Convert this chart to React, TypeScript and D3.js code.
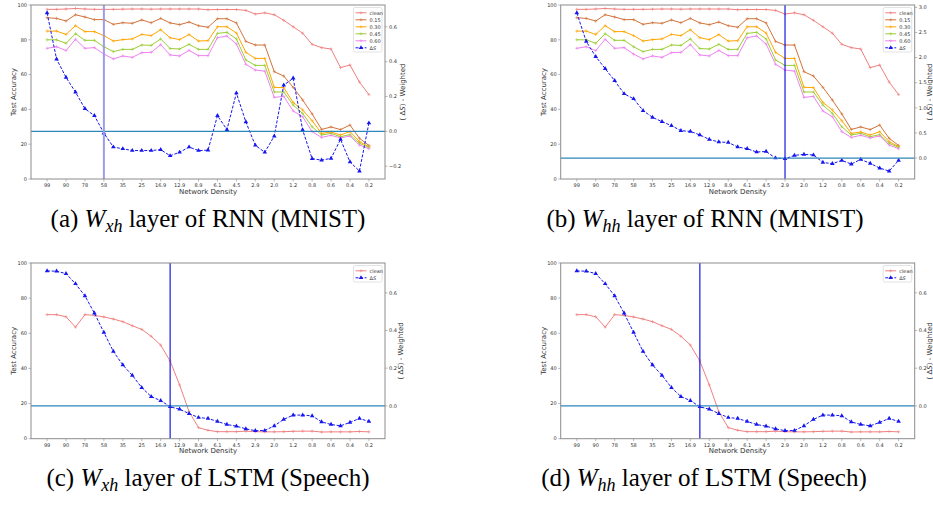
import React from 'react'
import * as d3 from 'd3'

// x tick labels (every other point), 35 densities in total
const densityLabels = ["99", "90", "78", "58", "35", "25", "16.9", "12.9", "8.9", "6.1", "4.5", "2.9", "2.0", "1.2", "0.8", "0.6", "0.4", "0.2"]
const accTicks = [0, 20, 40, 60, 80, 100]

// RNN (MNIST) accuracy curves, same for both layers
const rnnClean = [97.5, 97.5, 97.7, 98.0, 97.7, 97.5, 97.5, 97.5, 97.6, 97.7, 97.7, 97.6, 97.7, 97.7, 97.7, 97.7, 97.7, 97.3, 97.4, 97.4, 97.4, 96.9, 94.8, 95.5, 94.4, 91.2, 87.5, 83.8, 77.4, 75.5, 74.7, 64.0, 65.5, 55.7, 48.5]
const rnn015 = [92.7, 92.3, 90.8, 94.4, 93.1, 91.6, 91.6, 88.9, 89.8, 89.5, 91.4, 89.8, 92.3, 89.7, 88.7, 90.2, 88.1, 87.2, 92.1, 92.1, 89.7, 79.1, 77.0, 77.0, 61.7, 59.2, 52.7, 45.4, 37.4, 28.5, 29.9, 28.4, 31.0, 23.4, 19.3]
const rnn030 = [85.0, 85.0, 83.1, 88.1, 84.7, 84.7, 82.4, 79.3, 80.1, 80.5, 83.1, 82.4, 85.8, 81.2, 80.1, 83.0, 79.3, 79.5, 87.5, 87.5, 83.9, 72.8, 69.3, 69.3, 52.7, 52.5, 44.0, 39.7, 33.5, 26.2, 27.0, 25.3, 27.2, 21.5, 18.6]
const rnn045 = [80.0, 80.0, 78.0, 83.5, 79.7, 79.7, 76.0, 73.2, 74.5, 74.5, 77.0, 76.8, 80.5, 75.0, 74.7, 77.4, 74.5, 74.5, 83.7, 84.3, 80.5, 68.4, 65.3, 65.3, 50.0, 50.0, 42.5, 37.7, 30.0, 25.3, 26.2, 24.3, 25.5, 20.5, 18.2]
const rnn060 = [75.1, 76.0, 73.8, 80.3, 75.1, 75.5, 71.8, 69.0, 70.7, 69.9, 72.6, 72.8, 77.2, 71.3, 70.7, 73.9, 70.9, 70.9, 81.2, 82.2, 77.6, 65.9, 62.6, 62.0, 46.9, 47.5, 39.1, 35.8, 27.2, 23.9, 25.1, 23.6, 24.7, 19.5, 17.4]
const rnnXhDelta = [0.68, 0.415, 0.31, 0.225, 0.13, 0.09, -0.01, -0.09, -0.10, -0.11, -0.11, -0.11, -0.105, -0.14, -0.12, -0.09, -0.11, -0.108, 0.09, 0.01, 0.22, 0.054, -0.08, -0.12, -0.027, 0.265, 0.305, 0.008, -0.157, -0.165, -0.155, -0.046, -0.175, -0.228, 0.048]
const rnnHhDelta = [2.89, 2.32, 2.02, 1.78, 1.54, 1.28, 1.18, 0.945, 0.81, 0.725, 0.645, 0.545, 0.53, 0.46, 0.37, 0.32, 0.31, 0.22, 0.185, 0.12, 0.13, 0.0, -0.015, 0.053, 0.073, 0.06, -0.087, -0.113, -0.047, -0.12, -0.027, -0.107, -0.2, -0.26, -0.047]

// LSTM (Speech)
const lstmClean = [70.6, 70.6, 69.4, 63.5, 70.6, 70.2, 69.3, 68.1, 66.6, 64.3, 62.2, 58.3, 53.3, 44.2, 30.6, 15.4, 6.3, 4.8, 4.0, 4.0, 4.0, 4.3, 4.0, 3.9, 3.9, 4.0, 4.2, 4.3, 4.3, 3.8, 3.9, 3.9, 3.9, 4.1, 3.9]
const lstmDelta = [0.716, 0.715, 0.702, 0.648, 0.584, 0.492, 0.39, 0.289, 0.217, 0.162, 0.097, 0.049, 0.028, -0.005, -0.018, -0.041, -0.062, -0.067, -0.083, -0.099, -0.108, -0.122, -0.132, -0.131, -0.106, -0.072, -0.049, -0.049, -0.053, -0.085, -0.099, -0.106, -0.088, -0.067, -0.083]

const rightTicksA = [-0.2, 0.0, 0.2, 0.4, 0.6]
const rightTicksB = [0.0, 0.5, 1.0, 1.5, 2.0, 2.5, 3.0]
const rightTicksC = [0.0, 0.2, 0.4, 0.6]

const rnnSeries = [
  { name: "clean", values: rnnClean, color: "#f08080" },
  { name: "0.15", values: rnn015, color: "#d2733a" },
  { name: "0.30", values: rnn030, color: "#ffa500" },
  { name: "0.45", values: rnn045, color: "#9acd32" },
  { name: "0.60", values: rnn060, color: "#ee82ee" },
]
const lstmSeries = [{ name: "clean", values: lstmClean, color: "#f08080" }]

const FONT = "DejaVu Sans, sans-serif"
const SPINE = "#8c8c8c"
const TXT = "#333"

function Panel(props) {
  const { left, top, height, series, delta, vline, vlineColor, vlineWidth, rightTicks, rightLabelOffset } = props
  const width = 354
  const n = delta.length
  const pad = (n - 1) * 0.05
  const x = d3.scaleLinear().domain([-pad, n - 1 + pad]).range([0, width])
  const y = d3.scaleLinear().domain([0, 100]).range([height, 0])
  const [lo, hi] = d3.extent(delta)
  const m = (hi - lo) * 0.05
  const yr = d3.scaleLinear().domain([lo - m, hi + m]).range([height, 0])
  const line = d3.line().x((d, i) => x(i)).y(d => y(d))
  const lineR = d3.line().x((d, i) => x(i)).y(d => yr(d))
  const fmt = d3.format(".1f")
  const tri = d3.symbol().type(d3.symbolTriangle).size(9)()
  const legendRows = [...series.map(s => ({ name: s.name, color: s.color, delta: false })), { name: "ΔS", color: "#1515f0", delta: true }]
  const lgW = 28.5
  const lgX = width - lgW - 3
  return (
    <g transform={`translate(${left},${top})`} fontFamily={FONT}>
      {series.map(s => (
        <g key={s.name}>
          <path d={line(s.values)} fill="none" stroke={s.color} strokeWidth={1} />
          {s.values.map((v, i) => (
            <path key={i} d={`M${x(i) - 1.6},${y(v)}h3.2M${x(i)},${y(v) - 1.6}v3.2`} stroke={s.color} strokeWidth={0.6} />
          ))}
        </g>
      ))}
      <path d={lineR(delta)} fill="none" stroke="#1515f0" strokeWidth={1} strokeDasharray="3,1.6" />
      {delta.map((v, i) => (
        <path key={i} d={tri} transform={`translate(${x(i)},${yr(v)})`} fill="#1515f0" />
      ))}
      <line x1={0} x2={width} y1={yr(0)} y2={yr(0)} stroke="#2f86bb" strokeWidth={1.2} />
      <line x1={x(vline)} x2={x(vline)} y1={0} y2={height} stroke={vlineColor} strokeWidth={vlineWidth} />
      {/* spines */}
      <rect x={0} y={0} width={width} height={height} fill="none" stroke={SPINE} strokeWidth={1} />
      {/* bottom axis */}
      {densityLabels.map((t, k) => (
        <g key={t} transform={`translate(${x(k * 2)},${height})`}>
          <line y2={2.5} stroke={SPINE} strokeWidth={0.6} />
          <text y={8.3} textAnchor="middle" fontSize={5} fill={TXT}>{t}</text>
        </g>
      ))}
      <text x={width / 2} y={height + 14.5} textAnchor="middle" fontSize={7} fill={TXT}>Network Density</text>
      {/* left axis */}
      {accTicks.map(t => (
        <g key={t} transform={`translate(0,${y(t)})`}>
          <line x2={-2.5} stroke={SPINE} strokeWidth={0.6} />
          <text x={-4} dy="0.35em" textAnchor="end" fontSize={5} fill={TXT}>{t}</text>
        </g>
      ))}
      <text transform={`translate(-17.5,${height / 2}) rotate(-90)`} dy="0.35em" textAnchor="middle" fontSize={7} fill={TXT}>Test Accuracy</text>
      {/* right axis */}
      {rightTicks.map(t => (
        <g key={t} transform={`translate(${width},${yr(t)})`}>
          <line x2={2.5} stroke={SPINE} strokeWidth={0.6} />
          <text x={4} dy="0.35em" textAnchor="start" fontSize={5} fill={TXT}>{fmt(t)}</text>
        </g>
      ))}
      <text transform={`translate(${width + rightLabelOffset},${height / 2}) rotate(-90)`} dy="0.35em" textAnchor="middle" fontSize={7} fill={TXT}>
        ( Δ<tspan fontStyle="italic">S</tspan>) - Weighted
      </text>
      {/* legend */}
      <g transform={`translate(${lgX},2.5)`}>
        <rect x={0} y={0} width={lgW} height={legendRows.length * 7 + 2.5} rx={1.5} fill="white" fillOpacity={0.85} stroke="#d0d0d0" strokeWidth={0.6} />
        {legendRows.map((r, i) => (
          <g key={r.name} transform={`translate(2,${5.3 + i * 7})`}>
            <line x1={0} x2={11} stroke={r.color} strokeWidth={1} strokeDasharray={r.delta ? "3,1.6" : null} />
            {r.delta
              ? <path d={tri} transform="translate(5.5,0)" fill={r.color} />
              : <path d="M4,0h3M5.5,-1.5v3" stroke={r.color} strokeWidth={0.6} />}
            <text x={14} dy="0.35em" fontSize={5} fill={TXT}>
              {r.delta ? <>Δ<tspan fontStyle="italic">S</tspan></> : r.name}
            </text>
          </g>
        ))}
      </g>
    </g>
  )
}

function Caption({ cx, cy, tag, sub, rest }) {
  return (
    <text x={cx} y={cy} textAnchor="middle" fontFamily="Liberation Serif, Times New Roman, serif" fontSize={25} fill="#000">
      {`(${tag}) `}
      <tspan fontStyle="italic">W</tspan>
      <tspan fontStyle="italic" fontSize={18} dy={4.5}>{sub}</tspan>
      <tspan dy={-4.5}>{` layer of ${rest}`}</tspan>
    </text>
  )
}

export default function App() {
  return (
    <svg width={933} height={506} style={{ position: 'absolute', left: 0, top: 0, background: 'white' }}>
      <Panel left={31} top={5} height={174} series={rnnSeries} delta={rnnXhDelta} vline={6} vlineColor="#9c9ce8" vlineWidth={2} rightTicks={rightTicksA} rightLabelOffset={18} />
      <Panel left={560.7} top={5} height={174} series={rnnSeries} delta={rnnHhDelta} vline={22} vlineColor="#2b2be0" vlineWidth={1.3} rightTicks={rightTicksB} rightLabelOffset={14.5} />
      <Panel left={31} top={263} height={175.7} series={lstmSeries} delta={lstmDelta} vline={13} vlineColor="#2b2be0" vlineWidth={1.3} rightTicks={rightTicksC} rightLabelOffset={16} />
      <Panel left={560.7} top={263} height={175.7} series={lstmSeries} delta={lstmDelta} vline={13} vlineColor="#2b2be0" vlineWidth={1.3} rightTicks={rightTicksC} rightLabelOffset={14.5} />
      <Caption cx={208} cy={227} tag="a" sub="xh" rest="RNN (MNIST)" />
      <Caption cx={705} cy={227} tag="b" sub="hh" rest="RNN (MNIST)" />
      <Caption cx={208} cy={486} tag="c" sub="xh" rest="LSTM (Speech)" />
      <Caption cx={704} cy={486} tag="d" sub="hh" rest="LSTM (Speech)" />
    </svg>
  )
}
